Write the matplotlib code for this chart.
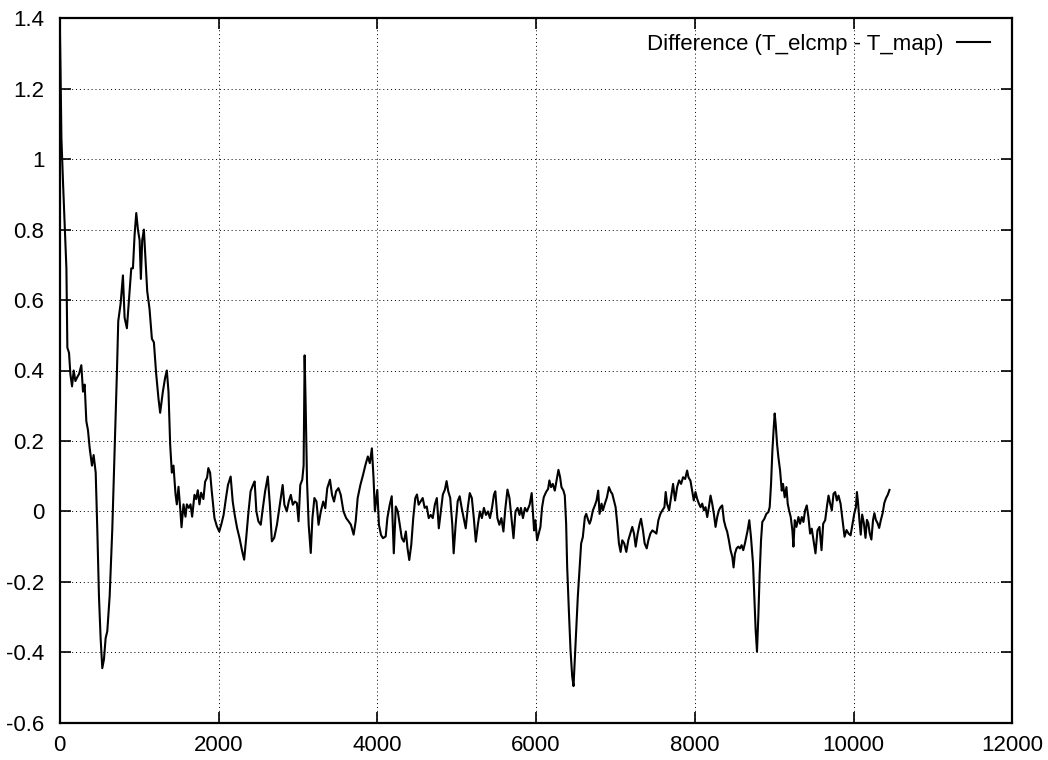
import matplotlib.pyplot as plt
from matplotlib.ticker import FuncFormatter

# x = step, y = T_elcmp - T_map
steps = [0, 10, 21, 42, 63, 84, 96, 117, 134, 155, 176, 197, 218, 243, 272, 293, 314, 335, 356, 377,
         406, 427, 453, 473, 494, 515, 536, 557, 578, 599, 629, 662, 691, 721, 737, 767, 796, 817, 846, 872,
         901, 922, 943, 964, 985, 1006, 1022, 1039, 1060, 1081, 1102, 1131, 1161, 1186, 1215, 1244, 1265, 1299, 1328, 1349,
         1370, 1391, 1412, 1433, 1458, 1475, 1496, 1517, 1534, 1559, 1584, 1601, 1626, 1647, 1668, 1697, 1718, 1739, 1760, 1781,
         1810, 1831, 1856,
         1872, 1894, 1915, 1949, 1979, 2009, 2034, 2064, 2094, 2119, 2153, 2179, 2204, 2234, 2264, 2298, 2323, 2349, 2374, 2404,
         2434, 2455, 2477, 2502, 2532, 2553, 2587, 2621, 2647, 2672, 2702, 2736, 2766, 2791, 2808, 2830, 2860, 2885, 2911, 2936,
         2962, 2987, 3008, 3030, 3055, 3072, 3085, 3098, 3115, 3136, 3162, 3183, 3208, 3234, 3260, 3289, 3319, 3345, 3370, 3404,
         3430, 3455, 3481, 3511, 3540, 3574, 3608, 3638, 3668, 3702, 3728, 3753, 3787, 3821, 3851, 3881, 3906, 3932, 3953, 3970,
         4000,
         4021, 4047, 4072, 4106, 4127, 4157, 4182, 4208, 4233, 4258, 4284, 4309, 4335, 4360, 4381, 4403, 4428, 4453, 4479, 4500,
         4521, 4547, 4572, 4597, 4623, 4648, 4674, 4699, 4725, 4750, 4775, 4801, 4826, 4852, 4873, 4894, 4919, 4945, 4962, 4987,
         5013, 5038, 5063, 5089, 5114, 5140, 5165, 5191, 5216, 5241, 5267, 5292, 5318, 5343, 5369, 5394, 5419, 5445, 5470, 5487,
         5513, 5538, 5563, 5589, 5614, 5640, 5665, 5691, 5716, 5741, 5767, 5792, 5809, 5835, 5860, 5885, 5919, 5945,
         5975, 5992, 6013, 6034, 6055, 6076, 6097, 6126, 6152, 6168, 6189, 6211, 6236, 6261, 6282, 6303, 6320, 6345, 6362, 6379,
         6392, 6413, 6434, 6455, 6472, 6488, 6509, 6526, 6547, 6568, 6589, 6615, 6632, 6657, 6674, 6690, 6716, 6741, 6762, 6783,
         6800, 6825, 6842, 6867, 6893, 6918, 6943, 6960, 6981, 7002, 7023, 7044, 7065, 7086, 7111, 7137, 7162, 7187, 7212, 7234,
         7255, 7280, 7305, 7322, 7347, 7368, 7394, 7415, 7440, 7465, 7490, 7516, 7541, 7566, 7591, 7617, 7633, 7650, 7676, 7701,
         7726, 7751, 7777, 7802, 7827, 7852, 7878, 7903, 7920,
         7945, 7966, 7987, 8008, 8029, 8051, 8072, 8093, 8114, 8135, 8156, 8177, 8198, 8219, 8240, 8261, 8282, 8303, 8324, 8345,
         8366, 8387, 8408, 8429, 8450, 8472, 8488, 8505, 8526, 8547, 8568, 8589, 8610, 8631, 8648, 8665, 8686, 8707, 8733, 8749,
         8766, 8783, 8800, 8817, 8834, 8850, 8876, 8901, 8926, 8943, 8960, 8977, 8994, 9006, 9019, 9036, 9053, 9074, 9095, 9111,
         9132, 9154, 9170, 9187, 9208, 9229, 9242, 9259, 9280, 9305, 9326, 9347, 9368, 9389, 9410, 9431, 9452, 9473, 9495, 9520,
         9545, 9570, 9596, 9617, 9642, 9663, 9684, 9705, 9726, 9747, 9768, 9789, 9810, 9836, 9861, 9886, 9911, 9937, 9962, 9987,
         10008, 10029, 10042,
         10056, 10073, 10090, 10108, 10129, 10150, 10168, 10185, 10202, 10224, 10245, 10262, 10280, 10301, 10322, 10344, 10366,
         10387, 10409, 10430, 10452]

diff = [1.40, 1.25, 1.06, 0.93, 0.81, 0.69, 0.465, 0.45, 0.39, 0.355, 0.40, 0.37, 0.38, 0.39, 0.415, 0.34, 0.36, 0.256, 0.23, 0.18,
        0.13, 0.16, 0.11, -0.05, -0.24, -0.36, -0.445, -0.42, -0.36, -0.34, -0.24, -0.05, 0.17, 0.40, 0.54, 0.59, 0.67, 0.55, 0.52, 0.60,
        0.69, 0.69, 0.785, 0.847, 0.80, 0.77, 0.66, 0.77, 0.80, 0.71, 0.625, 0.575, 0.49, 0.48, 0.39, 0.32, 0.28, 0.34, 0.38, 0.40,
        0.34, 0.19, 0.11, 0.13, 0.05, 0.02, 0.07, 0.01, -0.045, 0.02, -0.015, 0.02, 0.01, 0.02, -0.015, 0.047, 0.035, 0.06, 0.02, 0.053,
        0.035, 0.084, 0.096,
        0.123, 0.11, 0.057, -0.019, -0.042, -0.057, -0.038, -0.01, 0.038, 0.075, 0.099, 0.028, -0.01, -0.047, -0.075, -0.113, -0.137, -0.075, -0.01, 0.057,
        0.075, 0.085, 0.0, -0.028, -0.038, 0.0, 0.057, 0.099, 0.019, -0.085, -0.075, -0.038, 0.009, 0.047, 0.075, 0.019, 0.0, 0.028, 0.047, 0.019,
        0.028, 0.024, -0.028, 0.075, 0.09, 0.13, 0.443, 0.30, 0.085, -0.038, -0.118, -0.019, 0.038, 0.028, -0.038, 0.0, 0.028, 0.009, 0.066, 0.09,
        0.047, 0.028, 0.057, 0.066, 0.047, 0.0, -0.019, -0.028, -0.038, -0.066, -0.028, 0.038, 0.075, 0.104, 0.132, 0.156, 0.137, 0.179, 0.094, 0.0,
        0.061,
        -0.038, -0.067, -0.076, -0.071, -0.019, 0.019, 0.043, -0.119, 0.014, 0.0, -0.038, -0.076, -0.086, -0.057, -0.105, -0.138, -0.095, -0.019, 0.038, 0.048,
        0.019, 0.029, 0.038, 0.01, 0.014, -0.019, -0.01, -0.019, 0.019, 0.038, -0.048, 0.0, 0.048, 0.062, 0.086, 0.057, 0.038, -0.038, -0.119, -0.038,
        0.029, 0.043, 0.01, -0.019, -0.048, 0.01, 0.052, 0.038, -0.019, -0.086, -0.038, 0.0, -0.019, 0.01, -0.01, 0.0, -0.019, 0.01, 0.048, 0.057,
        -0.019, -0.038, -0.019, -0.057, 0.01, 0.062, 0.038, -0.019, -0.076, 0.0, 0.01, -0.01, 0.01, -0.019, 0.01, 0.0, 0.019, 0.052,
        -0.054, -0.025, -0.082, -0.063, -0.044, 0.012, 0.04, 0.055, 0.064, 0.088, 0.069, 0.078, 0.059, 0.092, 0.118, 0.097, 0.069, 0.059, 0.045, -0.035,
        -0.157, -0.28, -0.393, -0.468, -0.496, -0.42, -0.317, -0.242, -0.167, -0.091, -0.073, -0.016, -0.007, -0.025, -0.035, -0.025, 0.003, 0.017, 0.031, 0.059,
        -0.007, 0.022, 0.003, 0.022, 0.04, 0.069, 0.055, 0.05, 0.031, 0.012, -0.035, -0.091, -0.115, -0.082, -0.091, -0.115, -0.082, -0.063, -0.044, -0.063,
        -0.1, -0.063, -0.035, -0.021, -0.054, -0.091, -0.105, -0.082, -0.063, -0.054, -0.058, -0.063, -0.025, -0.007, 0.003, 0.012, 0.055, 0.022, 0.003, 0.04,
        0.078, 0.031, 0.069, 0.088, 0.078, 0.097, 0.092, 0.116, 0.097,
        0.087, 0.059, 0.031, 0.055, 0.036, 0.022, 0.012, 0.022, 0.003, 0.012, -0.016, 0.012, 0.045, 0.022, -0.007, -0.044, -0.016, 0.003, 0.012, 0.017,
        -0.025, -0.044, -0.058, -0.082, -0.11, -0.129, -0.159, -0.12, -0.105, -0.10, -0.105, -0.096, -0.11, -0.091, -0.072, -0.054, -0.025, -0.072, -0.148, -0.24,
        -0.336, -0.398, -0.298, -0.176, -0.082, -0.03, -0.021, -0.007, -0.002, 0.012, 0.078, 0.172, 0.238, 0.278, 0.247, 0.191, 0.153, 0.116, 0.059, 0.078,
        0.04, 0.069, 0.022, 0.003, -0.016, -0.054, -0.10, -0.025, -0.044, -0.016, -0.035, -0.016, -0.03, 0.003, 0.017, -0.016, -0.063, -0.049, -0.082, -0.119,
        -0.054, -0.044, -0.11, -0.035, -0.025, 0.012, 0.045, 0.022, 0.003, 0.05, 0.055, 0.031, 0.045, 0.022, -0.025, -0.072, -0.053, -0.063, -0.068, -0.035,
        -0.007, 0.012, 0.055,
        0.024, -0.024, -0.066, -0.009, -0.033, -0.075, -0.024, -0.033, -0.061, -0.08, -0.024, -0.005, -0.024, -0.033, -0.047, -0.024, -0.005,
        0.024, 0.038, 0.047, 0.061]

x_ticks = [0, 2000, 4000, 6000, 8000, 10000, 12000]
y_ticks = [-0.6, -0.4, -0.2, 0, 0.2, 0.4, 0.6, 0.8, 1.0, 1.2, 1.4]
legend_label = 'Difference (T_elcmp - T_map)'

plt.rcParams['font.family'] = ['Liberation Sans', 'DejaVu Sans']
plt.rcParams['axes.unicode_minus'] = False

fig = plt.figure(figsize=(10.48, 7.6), dpi=100)
ax = fig.add_axes([0.057, 0.049, 0.909, 0.927])

ax.plot(steps, diff, color='black', linewidth=1.5, label=legend_label)

ax.set_xlim(0, 12000)
ax.set_ylim(-0.6, 1.4)
ax.set_xticks(x_ticks)
ax.set_yticks(y_ticks)
ax.yaxis.set_major_formatter(FuncFormatter(lambda v, p: '%g' % round(v, 2)))
ax.tick_params(direction='in', top=True, right=True, length=8, width=1.2,
               labelsize=16, pad=9)
ax.tick_params(axis='y', pad=11)
for s in ax.spines.values():
    s.set_linewidth(1.6)

ax.grid(True, color='black', linestyle=(0, (1, 3)), linewidth=0.7)

ax.legend(loc='upper right', bbox_to_anchor=(0.998, 1.006), frameon=False,
          markerfirst=False, handlelength=1.5, handletextpad=0.6, fontsize=16)

fig.savefig('out.png', dpi=100)
